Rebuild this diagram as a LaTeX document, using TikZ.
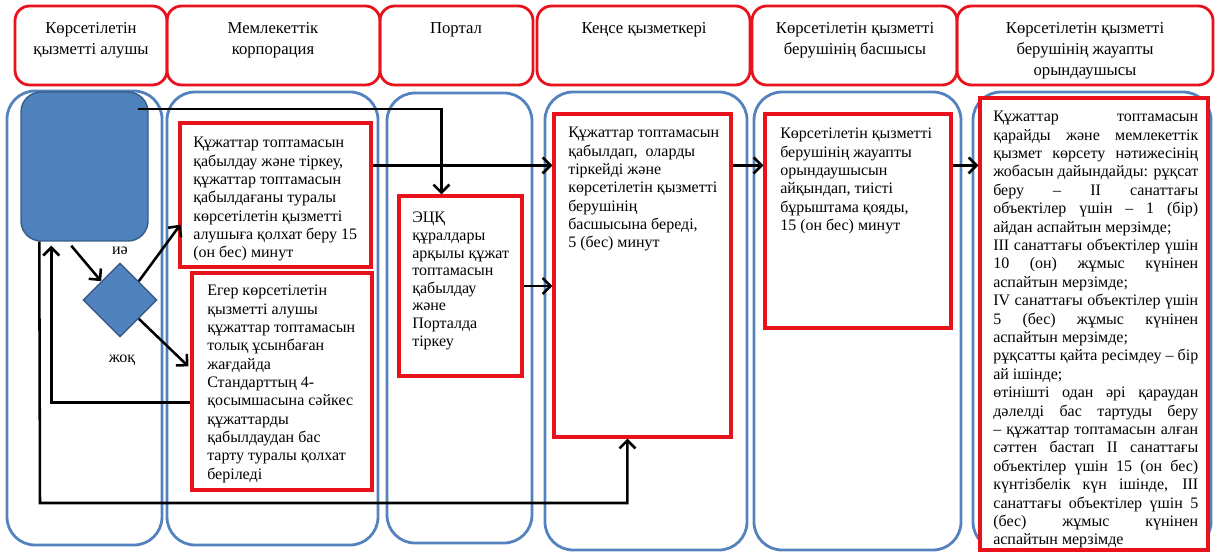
\documentclass[tikz,border=0pt]{standalone}
\usepackage{fontspec}
\setmainfont{Liberation Serif}
\usetikzlibrary{arrows.meta,calc,shapes.geometric,fit}
\definecolor{lanebl}{RGB}{84,130,190}
\definecolor{fillbl}{RGB}{79,129,189}
\definecolor{edgebl}{RGB}{56,93,138}
\definecolor{boxred}{RGB}{232,18,28}
\newlength\rbw
\setlength\rbw{153.75pt}
\newcommand\jl[1]{\makebox[\rbw][s]{#1}}
\begin{document}
\begin{tikzpicture}[x=0.75pt,y=-0.75pt,
  lane/.style={draw=lanebl, line width=2.1pt, rounded corners=21pt, inner sep=0pt},
  hdr/.style={draw=boxred, line width=2.1pt, rounded corners=11pt, inner sep=0pt},
  redbox/.style={draw=boxred, line width=2.4pt, inner sep=0pt, fill=white},
  txt/.style={inner sep=0pt, anchor=north west, align=left, font=\fontsize{12}{13.75}\selectfont},
  htxt/.style={inner sep=0pt, anchor=north, align=center, font=\fontsize{12.5}{15.75}\selectfont},
  arr/.style={draw=black, line width=1.9pt, -{Straight Barb[length=6pt,width=12pt]}},
  lbl/.style={inner sep=0pt, font=\fontsize{12}{14}\selectfont},
  bluefill/.style={fill=fillbl, draw=edgebl, line width=1.1pt}]
\useasboundingbox (0,0) rectangle (1217,552);
% lanes
\node[lane, fit={(7,91) (162,545)}] (lane1) {};
\node[lane, fit={(167,92) (378,545)}] (lane2) {};
\node[lane, fit={(387,93) (532,543)}] (lane3) {};
\node[lane, fit={(545,92) (747,550)}] (lane4) {};
\node[lane, fit={(754,92) (961,550)}] (lane5) {};
\node[lane, fit={(973,92) (1211,550)}] (lane6) {};
% headers
\node[hdr, fit={(15,6) (167,85)}] (h1) {};
\node[hdr, fit={(167,6) (380,85)}] (h2) {};
\node[hdr, fit={(380,6) (533,85)}] (h3) {};
\node[hdr, fit={(537,6) (750,85)}] (h4) {};
\node[hdr, fit={(752,6) (957,85)}] (h5) {};
\node[hdr, fit={(957,6) (1213,85)}] (h6) {};
\node[htxt] (h1t) at (91,22) {Көрсетілетін\\қызметті алушы};
\node[htxt] (h2t) at (273,22) {Мемлекеттік\\корпорация};
\node[htxt] (h3t) at (456,22) {Портал};
\node[htxt] (h4t) at (644,22) {Кеңсе қызметкері};
\node[htxt] (h5t) at (855,22) {Көрсетілетін қызметті\\берушінің басшысы};
\node[htxt] (h6t) at (1085,22) {Көрсетілетін қызметті\\берушінің жауапты\\орындаушысы};
% shapes
\node[bluefill, rounded corners=15pt, inner sep=0pt, fit={(21,92) (148,241)}] (qbox) {};
\node[bluefill, diamond, aspect=1, minimum width=55.5pt, minimum height=55.5pt, inner sep=0pt] (dia) at (120,300) {};
\node[redbox, fit={(180,123) (371,267)}] (m1) {};
\node[redbox, fit={(192,273) (372,490)}] (m2) {};
\node[redbox, fit={(399,196) (522,376)}] (portal) {};
\node[redbox, fit={(554,114) (731,437)}] (kense) {};
\node[redbox, fit={(765,114) (951,328)}] (head) {};
\node[redbox, fit={(980,98) (1208,550)}] (rbox) {};
% texts
\node[txt] (m1t) at (193,137) {Құжаттар топтамасын\\қабылдау және тіркеу,\\құжаттар топтамасын\\қабылдағаны туралы\\көрсетілетін қызметті\\алушыға қолхат беру 15\\(он бес) минут};
\node[txt] (m2t) at (207,285) {Егер көрсетілетін\\қызметті алушы\\құжаттар топтамасын\\толық ұсынбаған\\жағдайда\\Стандарттың 4-\\қосымшасына сәйкес\\құжаттарды\\қабылдаудан бас\\тарту туралы қолхат\\беріледі};
\node[txt, font=\fontsize{12}{13.2}\selectfont] (pt) at (412,212) {ЭЦҚ\\құралдары\\арқылы құжат\\топтамасын\\қабылдау\\және\\Порталда\\тіркеу};
\node[txt] (kt) at (568,127) {Құжаттар топтамасын\\қабылдап, \ оларды\\тіркейді және\\көрсетілетін қызметті\\берушінің\\басшысына береді,\\5 (бес) минут};
\node[txt] (hdt) at (780,128) {Көрсетілетін қызметті\\берушінің жауапты\\орындаушысын\\айқындап, тиісті\\бұрыштама қояды,\\15 (он бес) минут};
\node[txt, font=\fontsize{12}{13.8}\selectfont] (rt) at (993,111) {\jl{Құжаттар топтамасын}\\\jl{қарайды және мемлекеттік}\\\jl{қызмет көрсету нәтижесінің}\\\jl{жобасын дайындайды: рұқсат}\\\jl{беру – II санаттағы}\\\jl{объектілер үшін – 1 (бір)}\\айдан аспайтын мерзімде;\\\jl{III санаттағы объектілер үшін}\\\jl{10 (он) жұмыс күнінен}\\аспайтын мерзімде;\\\jl{IV санаттағы объектілер үшін}\\\jl{5 (бес) жұмыс күнінен}\\аспайтын мерзімде;\\\jl{рұқсатты қайта ресімдеу – бір}\\ай ішінде;\\\jl{өтінішті одан әрі қараудан}\\\jl{дәлелді бас тартуды беру}\\\jl{– құжаттар топтамасын алған}\\\jl{сәттен бастап II санаттағы}\\\jl{объектілер үшін 15 (он бес)}\\\jl{күнтізбелік күн ішінде, III}\\\jl{санаттағы объектілер үшін 5}\\\jl{(бес) жұмыс күнінен}\\аспайтын мерзімде};
\node[lbl] (yes) at (120,251) {иә};
\node[lbl] (no) at (122,360) {жоқ};
% connectors
\coordinate (t1) at (138,109);
\coordinate (b1) at (40,503);
\draw[arr] (t1) -| ($(portal.north west)+(44,0)$);
\draw[arr] ($(m1.north east)+(0,44)$) -- ($(kense.north west)+(0,53)$);
\draw[arr] (portal.east) -- (portal.east -| kense.west);
\draw[arr] ($(kense.north east)+(0,53)$) -- ($(head.north west)+(0,53)$);
\draw[arr] ($(head.north east)+(0,53)$) -- ($(rbox.north west)+(0,69)$);
\draw[arr] ($(qbox.south west)+(51,4)$) -- (dia.north west);
\draw[arr] (dia.north east) -- ($(m1.south west)+(2,-44)$);
\draw[arr] (dia.south east) -- ($(m2.north west)+(-2,95)$);
\draw[arr] ($(m2.north west)+(0,131)$) -| ($(qbox.south west)+(31,4)$);
\draw[arr] ($(qbox.south west)+(19,0)$) -- (b1) -| ($(kense.south west)+(75,0)$);
\end{tikzpicture}
\end{document}
